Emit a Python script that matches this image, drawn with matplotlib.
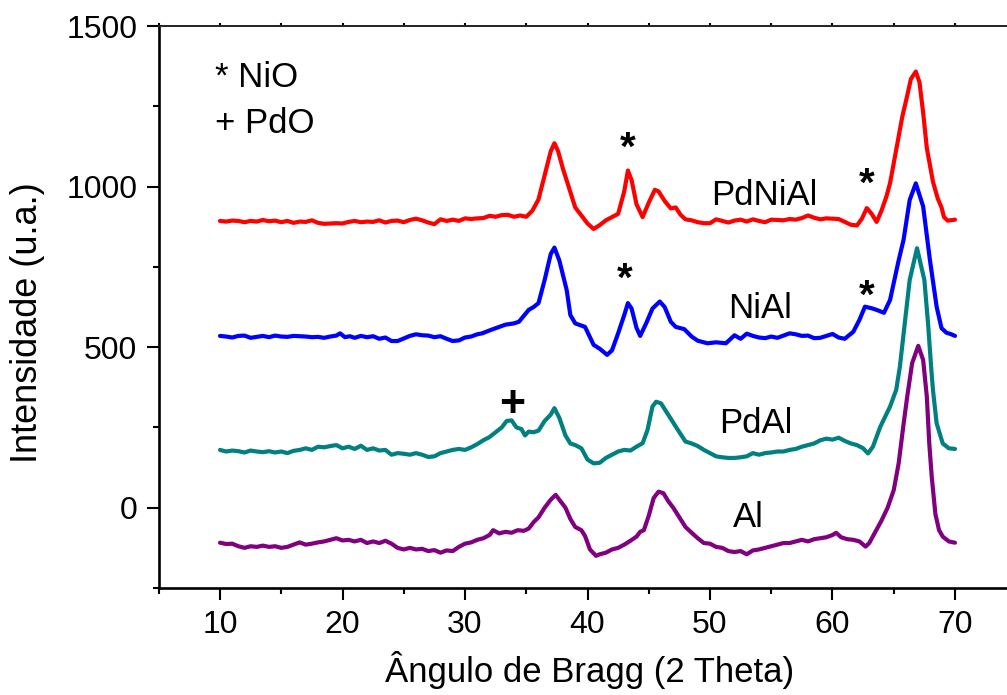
import matplotlib
matplotlib.use("Agg")
import matplotlib.pyplot as plt
from matplotlib.ticker import MultipleLocator

plt.rcParams['font.family'] = ['Liberation Sans', 'DejaVu Sans']

# PdNiAl
x_pdnial = [10, 10.5, 11, 11.5, 12, 12.5, 13, 13.5, 14, 14.5, 15, 15.5, 16, 16.5, 17, 17.5,
            18, 18.5, 19, 19.5, 20, 20.5, 21, 21.5, 22, 22.5, 23, 23.5, 24, 24.5, 25, 25.5,
            26, 26.5, 27, 27.5, 28, 28.5, 29, 29.5, 30, 30.5, 31, 31.5, 32, 32.5, 33, 33.5,
            34, 34.5, 35, 35.5, 36, 36.5, 37, 37.3, 37.6, 38, 38.5, 39, 39.5, 40, 40.5, 41,
            41.5, 42, 42.5, 43, 43.3, 43.6, 44, 44.5, 45, 45.5, 45.8, 46.3, 46.8, 47.2, 47.6,
            48, 48.5, 49, 49.5, 50, 50.5, 51, 51.5, 52, 52.5, 53, 53.5, 54, 54.5, 55, 55.5,
            56, 56.5, 57, 57.5, 58, 58.5, 59, 59.5, 60, 60.5, 61, 61.5, 62, 62.4, 62.8, 63.2,
            63.6, 64.0, 64.4, 64.7, 65.2, 65.7, 66.05, 66.4, 66.8, 67.1, 67.4, 67.7, 68.2,
            68.6, 68.9, 69.1, 69.4, 70]
y_pdnial = [893, 891, 894, 893, 889, 893, 891, 896, 892, 894, 889, 893, 887, 891, 890, 895,
            887, 884, 885, 886, 885, 890, 893, 889, 891, 890, 895, 888, 893, 894, 889, 896,
            900, 895, 888, 883, 898, 893, 897, 893, 901, 899, 901, 902, 909, 906, 911, 912,
            906, 910, 906, 925, 960, 1035, 1110, 1135, 1110, 1055, 995, 935, 910, 885, 868, 880,
            895, 905, 915, 985, 1050, 1020, 945, 905, 950, 990, 985, 955, 932, 935, 912,
            898, 895, 889, 886, 886, 898, 893, 888, 894, 897, 891, 898, 893, 889, 897, 896,
            895, 899, 897, 902, 910, 903, 898, 901, 900, 899, 890, 881, 879, 900, 933, 915,
            890, 925, 969, 1011, 1114, 1218, 1275, 1335, 1358, 1325, 1230, 1120, 1015,
            962, 935, 905, 894, 897]

# NiAl
x_nial = [10, 10.5, 11, 11.5, 12, 12.5, 13, 13.5, 14, 14.5, 15, 15.5, 16, 16.5, 17, 17.5,
          18, 18.5, 19, 19.5, 19.8, 20.2, 20.6, 21, 21.5, 22, 22.5, 23, 23.5, 24, 24.5, 25,
          25.5, 26, 26.5, 27, 27.5, 28, 28.5, 29, 29.5, 30, 30.5, 31, 31.4, 32, 32.5, 33.3,
          34, 34.4, 35.2, 35.6, 36.0, 36.5, 37.0, 37.3, 37.7, 38.3, 38.6, 39.0, 39.8, 40.5,
          41.0, 41.6, 42.0, 42.5, 43.0, 43.3, 43.6, 44.0, 44.3, 44.8, 45.3, 45.9, 46.3, 46.8,
          47.2, 47.9, 48.5, 49.0, 49.8, 50.5, 51.3, 52.0, 52.5, 53.0, 53.5, 54.0, 54.5, 55.0,
          55.5, 56.0, 56.5, 57.0, 57.5, 58.0, 58.5, 59.0, 59.5, 60.0, 60.5, 61.0, 61.7, 62.2,
          62.65, 63.2, 63.6, 64.2, 64.7, 65.0, 65.4, 65.8, 66.3, 66.8, 67.4, 67.95, 68.5,
          68.9, 69.3, 69.7, 70]
y_nial = [535, 533, 530, 535, 536, 529, 532, 535, 531, 536, 533, 532, 535, 534, 533, 531,
          532, 529, 533, 536, 543, 531, 534, 529, 535, 531, 534, 526, 530, 519, 519, 527,
          535, 540, 537, 536, 531, 534, 526, 519, 521, 530, 533, 540, 543, 552, 559, 570,
          574, 579, 616, 625, 637, 709, 790, 810, 770, 678, 600, 574, 563, 507,
          495, 476, 490, 543, 600, 637, 620, 560, 535, 575, 620, 642, 625, 579,
          563, 556, 533, 520, 512, 515, 512, 537, 526, 542, 535, 530, 528, 533,
          529, 536, 543, 540, 535, 536, 528, 529, 535, 541, 530, 526, 548, 585,
          626, 621, 616, 607, 647, 700, 770, 834, 958, 1010, 938, 772, 626,
          559, 545, 540, 535]

# PdAl
x_pdal = [10, 10.5, 11, 11.5, 12, 12.5, 13, 13.5, 14, 14.5, 15, 15.5, 16, 16.5, 17, 17.5,
          18, 18.5, 19, 19.5, 20, 20.5, 21, 21.5, 22, 22.5, 23, 23.5, 24, 24.5, 25, 25.5,
          26, 26.5, 27, 27.5, 28, 28.5, 29, 29.5, 30, 30.5, 31, 31.5, 32, 32.5, 33, 33.4,
          33.8, 34.2, 34.6, 34.9, 35.2, 35.6, 36.0, 36.5, 37.0, 37.3, 37.7, 38.2, 38.6, 39.0,
          39.5, 40.0, 40.5, 41.0, 41.5, 42.0, 42.5, 43.0, 43.5, 44.0, 44.5, 44.9, 45.3, 45.6,
          46.0, 46.5, 47.0, 47.5, 48.0, 48.5, 49.0, 49.5, 50.0, 50.5, 51.0, 51.5, 52.0, 52.5,
          53.0, 53.5, 54.0, 54.5, 55.0, 55.5, 56.0, 56.5, 57.0, 57.5, 58.0, 58.5, 59.0, 59.5,
          60.0, 60.5, 61.0, 61.5, 62.0, 62.5, 62.9, 63.3, 63.9, 64.7, 65.2, 65.5, 65.9, 66.3,
          66.9, 67.5, 67.8, 68.05, 68.2, 68.5, 69.0, 69.5, 70]
y_pdal = [180, 175, 178, 176, 172, 178, 175, 173, 176, 172, 175, 170, 177, 180, 185, 180,
          190, 188, 192, 195, 185, 190, 183, 193, 180, 185, 178, 180, 165, 170, 168, 165,
          170, 165, 158, 160, 170, 175, 180, 183, 180, 188, 198, 210, 220, 235, 250, 270,
          272, 250, 245, 225, 237, 235, 240, 270, 290, 310, 280, 225, 200, 195,
          185, 150, 138, 140, 155, 165, 175, 180, 178, 190, 201, 242, 315, 330,
          325, 295, 265, 235, 206, 200, 192, 180, 170, 160, 157, 155, 155, 157,
          160, 170, 165, 170, 172, 175, 175, 180, 183, 190, 195, 200, 210, 215,
          212, 218, 208, 200, 195, 185, 169, 190, 252, 315, 367, 439, 574, 709,
          808, 709, 574, 439, 367, 263, 200, 185, 183]

# Al
x_al = [10, 10.5, 11, 11.5, 12, 12.5, 13, 13.5, 14, 14.5, 15, 15.5, 16, 16.5, 17, 17.5,
        18, 18.5, 19, 19.5, 20, 20.5, 21, 21.5, 22, 22.5, 23, 23.5, 24, 24.5, 25, 25.5,
        26, 26.5, 27, 27.5, 28, 28.5, 29, 29.5, 30, 30.5, 31, 31.5, 32, 32.3, 32.8, 33.3,
        33.8, 34.3, 34.8, 35.2, 35.6, 36.0, 36.5, 37.0, 37.4, 37.8, 38.2, 38.6, 39.0, 39.5,
        39.8, 40.2, 40.7, 41.0, 41.5, 42.0, 42.5, 43.0, 43.5, 44.0, 44.3, 44.6, 45.0, 45.4,
        45.8, 46.2, 46.6, 47.0, 47.5, 48.0, 48.5, 49.0, 49.5, 50.0, 50.5, 51.0, 51.5, 52.0,
        52.5, 53.0, 53.5, 54.0, 54.5, 55.0, 55.5, 56.0, 56.5, 57.0, 57.5, 58.0, 58.5, 59.0,
        59.5, 60.0, 60.3, 60.7, 61.2, 61.7, 62.2, 62.7, 63.0, 63.5, 64.0, 64.5, 65.0, 65.4,
        65.8, 66.1, 66.5, 67.0, 67.4, 67.7, 67.9, 68.1, 68.4, 68.7, 69.0, 69.5, 70]
y_al = [-109, -113, -112, -120, -125, -120, -122, -118, -122, -120, -125, -122, -115, -108, -115, -112,
        -108, -105, -100, -95, -102, -100, -105, -100, -110, -105, -110, -103, -112, -125, -130, -125,
        -130, -128, -135, -132, -140, -133, -135, -122, -112, -108, -100, -95, -85, -70, -80, -75,
        -78, -70, -72, -65, -45, -30, 0, 25, 40, 20, 0, -35, -60, -70,
        -88, -130, -150, -145, -140, -130, -125, -115, -103, -90, -75, -70, -25, 30,
        50, 45, 20, 0, -30, -60, -78, -95, -110, -112, -122, -125, -135, -138,
        -135, -145, -133, -130, -125, -120, -115, -110, -110, -105, -100, -105, -98, -95,
        -92, -85, -78, -92, -98, -100, -105, -121, -110, -75, -40, 0, 55, 138,
        260, 346, 450, 504, 460, 346, 200, 97, -20, -70, -90, -105, -109]

series = [
    (x_al, y_al, '#800080'),
    (x_pdal, y_pdal, '#008080'),
    (x_nial, y_nial, '#0000ff'),
    (x_pdnial, y_pdnial, '#ff0000'),
]

# sample names written next to each pattern
sample_names = ['PdNiAl', 'NiAl', 'PdAl', 'Al']
name_x = [54.4, 54.1, 53.7, 53.1]
name_y = [943, 590, 232, -59]

# phase markers: NiO (*) and PdO (+)
nio_x = [43.3, 62.8, 43.0, 62.8]
nio_y = [1139, 1026, 730, 678]
pdo_x = [33.85]
pdo_y = [330]

fig = plt.figure(figsize=(10.07, 6.95), dpi=100)
ax = fig.add_axes([158.75 / 1007, 107 / 695, 857.5 / 1007, 562 / 695])

for xs, ys, c in series:
    ax.plot(xs, ys, color=c, lw=3.0, solid_joinstyle='round', solid_capstyle='round')

ax.set_xlim(5, 75)
ax.set_ylim(-250, 1500)
ax.xaxis.set_major_locator(MultipleLocator(10))
ax.xaxis.set_minor_locator(MultipleLocator(5))
ax.yaxis.set_major_locator(MultipleLocator(500))
ax.yaxis.set_minor_locator(MultipleLocator(250))

for side in ['left', 'bottom']:
    ax.spines[side].set_linewidth(1.9)
ax.spines['top'].set_linewidth(1.4)
ax.spines['top'].set_color('#222222')
ax.spines['right'].set_visible(False)

ax.tick_params(which='major', direction='out', length=8.5, width=1.5, labelsize=23, pad=7)
ax.tick_params(which='minor', direction='out', length=4.3, width=1.5)
ax.tick_params(axis='x', which='both', top=True, labeltop=False, pad=7)
for tick in ax.xaxis.get_major_ticks() + ax.xaxis.get_minor_ticks():
    tick.tick2line.set_markersize(2)

fig.text(28 / 1007, 1 - 323 / 695, 'Intensidade (u.a.)', rotation=90,
         ha='center', va='center', fontsize=26)
fig.text(590 / 1007, 1 - 682 / 695, 'Ângulo de Bragg (2 Theta)',
         ha='center', va='baseline', fontsize=25)

ax.text(9.6, 1311, '* NiO', fontsize=25, va='baseline')
ax.text(9.6, 1166, '+ PdO', fontsize=25, va='baseline')

for name, nx, ny in zip(sample_names, name_x, name_y):
    ax.text(nx, ny, name, fontsize=25, ha='center', va='baseline')

for mx, my in zip(nio_x, nio_y):
    ax.text(mx, my - 55, '*', fontsize=29, fontweight='bold', ha='center', va='baseline')
for mx, my in zip(pdo_x, pdo_y):
    ax.text(mx, my - 47, '+', fontsize=32, fontweight='bold', ha='center', va='baseline')

fig.savefig('out.png', dpi=100)
